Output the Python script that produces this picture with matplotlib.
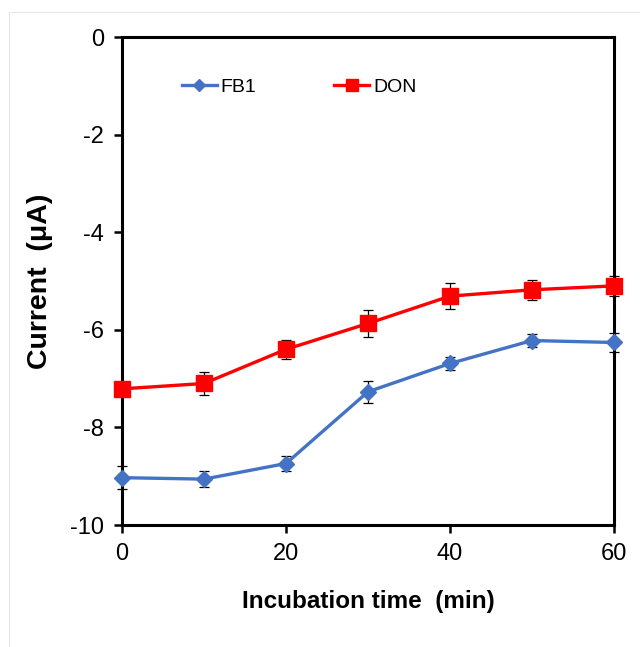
import matplotlib
matplotlib.use('Agg')
import matplotlib.pyplot as plt
from matplotlib.lines import Line2D

time = [0, 10, 20, 30, 40, 50, 60]
fb1 = [-9.03, -9.06, -8.74, -7.27, -6.69, -6.22, -6.26]
fb1_err = [0.23, 0.16, 0.16, 0.23, 0.14, 0.13, 0.19]
don = [-7.21, -7.10, -6.40, -5.87, -5.31, -5.18, -5.10]
don_err = [0.10, 0.24, 0.20, 0.27, 0.27, 0.20, 0.20]

plt.rcParams.update({'font.family': ['Liberation Sans', 'DejaVu Sans'],
                     'axes.unicode_minus': False})

fig = plt.figure(figsize=(6.4, 6.47), dpi=100)
ax = fig.add_axes([122/640, 1 - 525/647, (614-122)/640, (525-37)/647])
# faint outer frame (left and top only visible)
fig.add_artist(Line2D([9/640, 9/640], [0, 1 - 12/647], transform=fig.transFigure,
                      color='#E6E6E6', lw=0.8))
fig.add_artist(Line2D([9/640, 1], [1 - 12/647, 1 - 12/647],
                      transform=fig.transFigure, color='#E6E6E6', lw=0.8))

h1 = ax.errorbar(time, fb1, yerr=fb1_err, color='#4472C4', lw=2.4, marker='D',
                 ms=8, ecolor='black', elinewidth=0.9, capsize=3.5,
                 capthick=0.9, zorder=3)
h2 = ax.errorbar(time, don, yerr=don_err, color='#FF0000', lw=2.4, marker='s',
                 ms=11, ecolor='black', elinewidth=0.9, capsize=3.5,
                 capthick=0.9, zorder=4)

ax.set_xlim(0, 60)
ax.set_ylim(-10, 0)
ax.set_xticks([0, 20, 40, 60])
ax.set_yticks([-10, -8, -6, -4, -2, 0])
for s in ax.spines.values():
    s.set_linewidth(2.2)
ax.tick_params(direction='out', length=6, width=1.8, labelsize=17, pad=7)
ax.set_xlabel('Incubation time  (min)', fontsize=17.5, fontweight='bold',
              labelpad=18)
ax.set_ylabel('Current  (μA)', fontsize=20.5, fontweight='bold', labelpad=12)
for ln in ax.lines:
    ln.set_clip_on(False)

ax.legend([h1[0], h2[0]], ['FB1', 'DON'], loc='center',
          bbox_to_anchor=(0.36, 0.898), ncol=2, frameon=False, fontsize=14,
          handlelength=1.8, handletextpad=0.2, columnspacing=4.0,
          markerscale=0.75)

fig.savefig('out.png', dpi=100)
